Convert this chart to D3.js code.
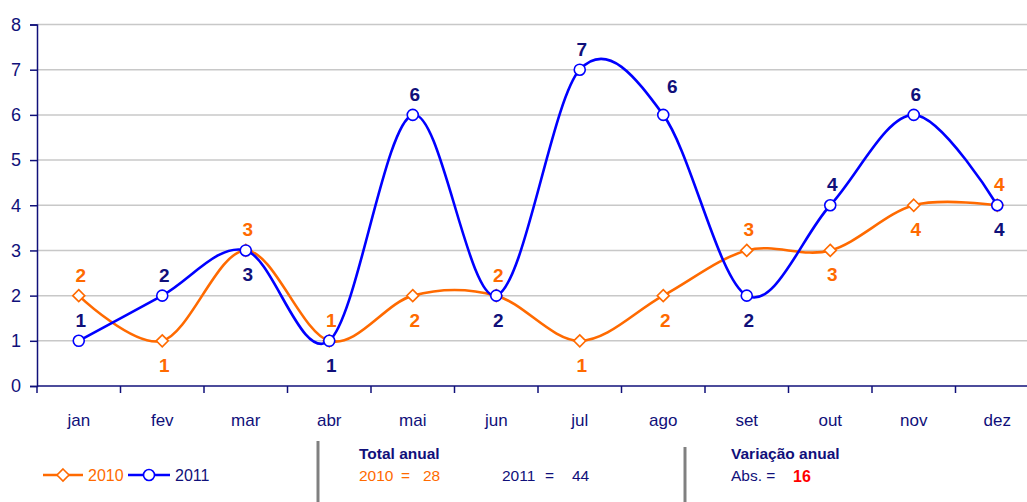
<!DOCTYPE html>
<html>
<head>
<meta charset="utf-8">
<script src="https://cdnjs.cloudflare.com/ajax/libs/d3/7.8.5/d3.min.js"></script>
<style>
  body { margin: 0; background: #fff; }
  svg text { font-family: "Liberation Sans", Arial, sans-serif; }
</style>
</head>
<body>
<svg id="chart" width="1027" height="502"></svg>
<script>
var months = ["jan","fev","mar","abr","mai","jun","jul","ago","set","out","nov","dez"];
var yTicks = [0,1,2,3,4,5,6,7,8];
var values2010 = [2,1,3,1,2,2,1,2,3,3,4,4];
var values2011 = [1,2,3,1,6,2,7,6,2,4,6,4];
// where each value label sits: a = above, b = below, r = above right
var pos2010 = ["a","b","a","a","b","a","b","b","a","b","b","a"];
var pos2011 = ["a","a","b","b","a","b","a","r","b","a","a","b"];
var total2010 = 28, total2011 = 44, variacao = 16;

var navy = "#10107a", orange = "#ff6a00", blue = "#0000ff";
var svg = d3.select("#chart");

var x = d3.scaleBand().domain(months).range([37, 1039]);
var y = d3.scaleLinear().domain([0, 8]).range([386, 24.5]);

// square diamond like excel's marker
var diamond = { draw: function(ctx, size) {
    var r = Math.sqrt(size / 2);
    ctx.moveTo(0, -r); ctx.lineTo(r, 0); ctx.lineTo(0, r); ctx.lineTo(-r, 0); ctx.closePath();
}};

// gridlines
svg.append("g")
    .selectAll("line")
    .data(yTicks.filter(function(d){ return d > 0; }))
    .enter().append("line")
    .attr("x1", 37).attr("x2", 1027)
    .attr("y1", function(d){ return y(d); })
    .attr("y2", function(d){ return y(d); })
    .attr("stroke", "#c8c8c8")
    .attr("stroke-width", 1.5);

// y axis
var yAxis = svg.append("g")
    .attr("transform", "translate(37,0)")
    .call(d3.axisLeft(y).tickValues(yTicks).tickSize(7).tickPadding(9).tickFormat(d3.format("d")));
yAxis.selectAll("path, line").attr("stroke", navy).attr("stroke-width", 1.5);
yAxis.selectAll("text").attr("fill", navy).attr("font-size", "18px").style("font-family", "Liberation Sans, Arial, sans-serif");

// x axis: ticks between categories
var xAxis = svg.append("g")
    .attr("transform", "translate(0,386)");
xAxis.append("line")
    .attr("x1", 37).attr("x2", 1027)
    .attr("stroke", navy).attr("stroke-width", 1.5);
xAxis.selectAll("line.tick")
    .data(months)
    .enter().append("line")
    .attr("class", "tick")
    .attr("x1", function(d){ return x(d); })
    .attr("x2", function(d){ return x(d); })
    .attr("y1", 0).attr("y2", 7)
    .attr("stroke", navy).attr("stroke-width", 1.5);
xAxis.selectAll("text")
    .data(months)
    .enter().append("text")
    .attr("x", function(d){ return x(d) + x.bandwidth() / 2; })
    .attr("y", 40)
    .attr("text-anchor", "middle")
    .attr("fill", navy)
    .attr("font-size", "17px")
    .text(function(d){ return d; });

var cx = function(d, i){ return x(months[i]) + x.bandwidth() / 2; };
var line = d3.line()
    .x(cx)
    .y(function(d){ return y(d); })
    .curve(d3.curveCardinal.tension(0));

function drawSeries(vals, color, labelColor, pos, marker, msize) {
    svg.append("path")
        .datum(vals)
        .attr("d", line)
        .attr("fill", "none")
        .attr("stroke", color)
        .attr("stroke-width", 2.6);

    svg.append("g").selectAll("path")
        .data(vals)
        .enter().append("path")
        .attr("transform", function(d, i){ return "translate(" + cx(d, i) + "," + y(d) + ")"; })
        .attr("d", d3.symbol().type(marker).size(msize))
        .attr("fill", "white")
        .attr("stroke", color)
        .attr("stroke-width", 1.6);

    svg.append("g").selectAll("text")
        .data(vals)
        .enter().append("text")
        .attr("x", function(d, i){ return cx(d, i) + (pos[i] === "r" ? 9 : 2); })
        .attr("y", function(d, i){
            if (pos[i] === "r") return y(d) - 22;
            return y(d) + (pos[i] === "a" ? -14 : 31);
        })
        .attr("text-anchor", "middle")
        .attr("font-weight", "bold")
        .attr("font-size", "19px")
        .attr("fill", labelColor)
        .text(function(d){ return d; });
}

drawSeries(values2010, orange, orange, pos2010, diamond, 72);
drawSeries(values2011, blue, navy, pos2011, d3.symbolCircle, 95);

// legend
var legend = svg.append("g").attr("transform", "translate(0,475)");
legend.append("line").attr("x1", 43).attr("x2", 83).attr("stroke", orange).attr("stroke-width", 2.6);
legend.append("path").attr("transform", "translate(63,0)")
    .attr("d", d3.symbol().type(diamond).size(72))
    .attr("fill", "white").attr("stroke", orange).attr("stroke-width", 1.6);
legend.append("text").attr("x", 88).attr("y", 6).attr("fill", orange).attr("font-size", "16px").text("2010");
legend.append("line").attr("x1", 128).attr("x2", 170).attr("stroke", blue).attr("stroke-width", 2.6);
legend.append("path").attr("transform", "translate(149,0)")
    .attr("d", d3.symbol().type(d3.symbolCircle).size(95))
    .attr("fill", "white").attr("stroke", blue).attr("stroke-width", 1.6);
legend.append("text").attr("x", 175).attr("y", 6).attr("fill", navy).attr("font-size", "16px").text("2011");

// separators
svg.append("line").attr("x1", 318).attr("x2", 318).attr("y1", 441).attr("y2", 502)
    .attr("stroke", "#808080").attr("stroke-width", 3);
svg.append("line").attr("x1", 685).attr("x2", 685).attr("y1", 447).attr("y2", 502)
    .attr("stroke", "#808080").attr("stroke-width", 3);

// totals box
svg.append("text").attr("x", 359).attr("y", 459).attr("fill", navy)
    .attr("font-size", "15.5px").attr("font-weight", "bold").text("Total anual");
svg.append("text").attr("x", 359).attr("y", 481).attr("fill", orange).attr("font-size", "15.5px").text("2010");
svg.append("text").attr("x", 401).attr("y", 481).attr("fill", orange).attr("font-size", "15.5px").text("=");
svg.append("text").attr("x", 423).attr("y", 481).attr("fill", orange).attr("font-size", "15.5px").text(total2010);
svg.append("text").attr("x", 502).attr("y", 481).attr("fill", navy).attr("font-size", "15.5px").text("2011");
svg.append("text").attr("x", 545).attr("y", 481).attr("fill", navy).attr("font-size", "15.5px").text("=");
svg.append("text").attr("x", 572).attr("y", 481).attr("fill", navy).attr("font-size", "15.5px").text(total2011);

svg.append("text").attr("x", 731).attr("y", 459).attr("fill", navy)
    .attr("font-size", "15.5px").attr("font-weight", "bold").text("Variação anual");
svg.append("text").attr("x", 731).attr("y", 481).attr("fill", navy).attr("font-size", "15.5px").text("Abs.  =");
svg.append("text").attr("x", 793).attr("y", 482).attr("fill", "#ff0000")
    .attr("font-size", "16px").attr("font-weight", "bold").text(variacao);
</script>
</body>
</html>
